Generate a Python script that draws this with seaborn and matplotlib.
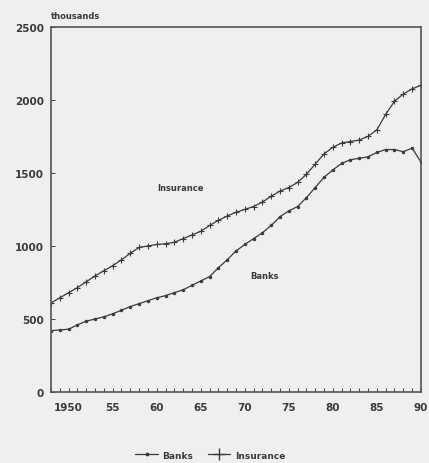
import numpy as np
import pandas as pd
import seaborn as sns
import matplotlib.pyplot as plt

# values (thousands), 1948-1990
years = list(range(1948, 1991))
insurance = [610, 645, 680, 715, 755, 795, 830, 865, 905, 950,
             990, 1000, 1010, 1015, 1025, 1050, 1075, 1100, 1140, 1175,
             1205, 1230, 1250, 1270, 1300, 1340, 1375, 1400, 1435, 1490,
             1560, 1630, 1675, 1705, 1715, 1725, 1750, 1795, 1900, 1990,
             2040, 2075, 2100]
banks = [420, 425, 430, 460, 485, 500, 515, 535, 560, 585,
         605, 625, 645, 660, 680, 700, 730, 760, 790, 850,
         905, 965, 1010, 1050, 1090, 1140, 1200, 1240, 1270, 1330,
         1400, 1470, 1520, 1565, 1590, 1600, 1610, 1640, 1660, 1660,
         1645, 1670, 1575]
xtick_pos = [1950, 1955, 1960, 1965, 1970, 1975, 1980, 1985, 1990]
xtick_lab = ["1950", "55", "60", "65", "70", "75", "80", "85", "90"]

df_b = pd.DataFrame({"year": years, "value": banks})
df_i = pd.DataFrame({"year": years, "value": insurance})

sns.set_theme(style="white")
plt.rcParams["font.family"] = ["DejaVu Sans"]
bg = "#efefef"
ink = "#3a3a3a"

fig = plt.figure(figsize=(4.29, 4.64), dpi=100, facecolor=bg)
ax = fig.add_axes([0.119, 0.153, 0.862, 0.787], facecolor=bg)

sns.lineplot(data=df_b, x="year", y="value", color=ink, linewidth=0.9,
             marker=".", markersize=3.5, markeredgecolor=ink, ax=ax)
sns.lineplot(data=df_i, x="year", y="value", color=ink, linewidth=0.9,
             marker="+", markersize=5, markeredgewidth=0.8,
             markeredgecolor=ink, ax=ax)

ax.set_xlim(1948, 1990)
ax.set_ylim(0, 2500)
ax.set_yticks([0, 500, 1000, 1500, 2000, 2500])
ax.set_xticks(xtick_pos)
ax.set_xticklabels(xtick_lab)
ax.set_xticks(range(1948, 1991), minor=True)
ax.tick_params(axis="both", which="both", bottom=True, left=True,
               direction="in", colors=ink, labelsize=7.5, length=3, width=0.7)
ax.tick_params(axis="x", which="major", pad=7)
ax.tick_params(axis="y", pad=5)
for lab in ax.get_xticklabels() + ax.get_yticklabels():
    lab.set_fontweight("bold")
    lab.set_color(ink)
ax.set_xlabel("")
ax.set_ylabel("")
for sp in ax.spines.values():
    sp.set_color("#555555")
    sp.set_linewidth(1.2)

fig.text(0.119, 0.955, "thousands", fontsize=6, fontweight="bold", color=ink,
         ha="left", va="bottom")
ax.text(1962.7, 1400, "Insurance", fontsize=6, fontweight="bold", color=ink,
        ha="center", va="center")
ax.text(1972.2, 800, "Banks", fontsize=6, fontweight="bold", color=ink,
        ha="center", va="center")

handles = [plt.Line2D([], [], color=ink, marker=".", markersize=3.5, lw=0.9),
           plt.Line2D([], [], color=ink, marker="+", markersize=8, lw=0.9)]
fig.legend(handles, ["Banks", "Insurance"], loc="lower center",
           bbox_to_anchor=(0.49, -0.01), ncol=2, frameon=False,
           handlelength=2.5, columnspacing=1.6, handletextpad=0.5,
           labelcolor=ink, prop={"weight": "bold", "size": 6.5})

fig.savefig("out.png", dpi=100, facecolor=bg)
